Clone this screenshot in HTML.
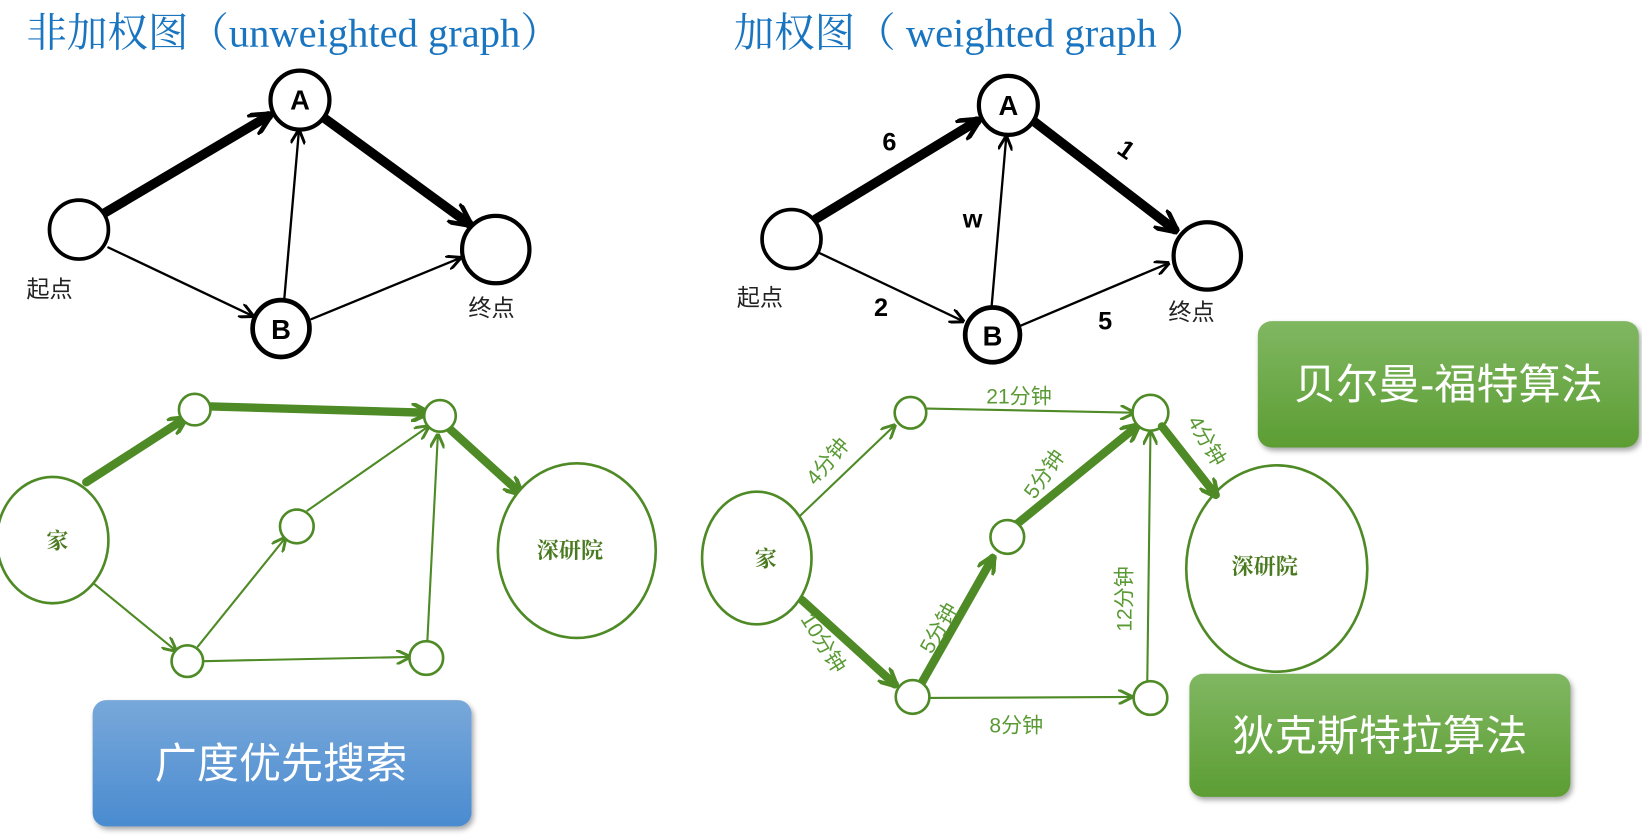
<!DOCTYPE html>
<html><head><meta charset="utf-8"><style>
html,body{margin:0;padding:0;background:#fff;width:1642px;height:836px;overflow:hidden}
svg{display:block}
</style></head><body>
<svg width="1642" height="836" viewBox="0 0 1560 794" xmlns="http://www.w3.org/2000/svg">
<defs>
<marker id="ak" viewBox="0 0 10 10" refX="9" refY="5" markerWidth="14" markerHeight="14" markerUnits="userSpaceOnUse" orient="auto"><path d="M0,0 L10,5 L0,10" fill="none" stroke="#000" stroke-width="2"/></marker>
<marker id="akb" viewBox="0 0 10 10" refX="8" refY="5" markerWidth="22" markerHeight="22" markerUnits="userSpaceOnUse" orient="auto"><path d="M0,0 L10,5 L0,10" fill="none" stroke="#000" stroke-width="2"/></marker>
<marker id="ag" viewBox="0 0 10 10" refX="9" refY="5" markerWidth="14" markerHeight="14" markerUnits="userSpaceOnUse" orient="auto"><path d="M0,0 L10,5 L0,10" fill="none" stroke="#4e8a25" stroke-width="2"/></marker>
<marker id="agb" viewBox="0 0 10 10" refX="8" refY="5" markerWidth="18" markerHeight="18" markerUnits="userSpaceOnUse" orient="auto"><path d="M0,0 L10,5 L0,10" fill="none" stroke="#4e8a25" stroke-width="2.2"/></marker>
<linearGradient id="gg" x1="0" y1="0" x2="0" y2="1"><stop offset="0" stop-color="#80b762"/><stop offset="1" stop-color="#5c9d33"/></linearGradient>
<linearGradient id="gb" x1="0" y1="0" x2="0" y2="1"><stop offset="0" stop-color="#78a8da"/><stop offset="1" stop-color="#4a8bd0"/></linearGradient>
<filter id="sh" x="-5%" y="-5%" width="115%" height="120%"><feDropShadow dx="2" dy="3" stdDeviation="2.5" flood-color="#000" flood-opacity="0.35"/></filter>
</defs>

<g font-family="'Liberation Serif','Noto Serif CJK SC',serif" font-size="38.5" fill="#1a75c0">
<text x="25" y="44">非加权图（unweighted graph）</text>
<text x="697" y="44">加权图（ weighted graph ）</text>
</g>

<!-- left black graph -->
<g fill="none" stroke="#000" stroke-linecap="round">
<line x1="98" y1="203" x2="255" y2="110" stroke-width="9" marker-end="url(#akb)"/>
<line x1="308" y1="112" x2="445" y2="212" stroke-width="9" marker-end="url(#akb)"/>
<line x1="103" y1="235" x2="240" y2="300" stroke-width="2.2" marker-end="url(#ak)"/>
<line x1="270" y1="285" x2="284" y2="124" stroke-width="2.2" marker-end="url(#ak)"/>
<line x1="296" y1="303" x2="437" y2="245" stroke-width="2.2" marker-end="url(#ak)"/>
<circle cx="285" cy="95" r="28" stroke-width="4" fill="#fff"/>
<circle cx="75" cy="218" r="28" stroke-width="3.5" fill="#fff"/>
<circle cx="267" cy="312" r="27" stroke-width="4.5" fill="#fff"/>
<circle cx="471" cy="237" r="32" stroke-width="4" fill="#fff"/>
</g>
<g font-family="'Liberation Sans',sans-serif" font-weight="bold" font-size="26" text-anchor="middle">
<text x="285" y="104">A</text><text x="267" y="322">B</text>
</g>
<g font-family="'Liberation Sans','Noto Sans CJK SC',sans-serif" font-size="22" fill="#222">
<text x="25" y="282">起点</text><text x="445" y="300">终点</text>
</g>

<!-- right black graph -->
<g fill="none" stroke="#000" stroke-linecap="round">
<line x1="775" y1="208" x2="928" y2="115" stroke-width="9" marker-end="url(#akb)"/>
<line x1="982" y1="115" x2="1116" y2="218" stroke-width="9" marker-end="url(#akb)"/>
<line x1="778" y1="240" x2="915" y2="305" stroke-width="2.2" marker-end="url(#ak)"/>
<line x1="942" y1="292" x2="956" y2="130" stroke-width="2.2" marker-end="url(#ak)"/>
<line x1="968" y1="310" x2="1110" y2="250" stroke-width="2.2" marker-end="url(#ak)"/>
<circle cx="958" cy="100" r="28" stroke-width="4" fill="#fff"/>
<circle cx="752" cy="227" r="28" stroke-width="3.5" fill="#fff"/>
<circle cx="943" cy="318" r="26" stroke-width="4.5" fill="#fff"/>
<circle cx="1147" cy="243" r="32" stroke-width="4" fill="#fff"/>
</g>
<g font-family="'Liberation Sans',sans-serif" font-weight="bold" font-size="26" text-anchor="middle">
<text x="958" y="109">A</text><text x="943" y="328">B</text>
<text x="845" y="143" font-size="24">6</text>
<text x="1070" y="150" font-size="24" transform="rotate(35 1070 142)">1</text>
<text x="924" y="216" font-size="24">w</text>
<text x="837" y="300" font-size="24">2</text>
<text x="1050" y="313" font-size="24">5</text>
</g>
<g font-family="'Liberation Sans','Noto Sans CJK SC',sans-serif" font-size="22" fill="#222">
<text x="700" y="290">起点</text><text x="1110" y="304">终点</text>
</g>

<!-- left green graph -->
<g fill="none" stroke="#4e8a25" stroke-linecap="round">
<line x1="82" y1="458" x2="175" y2="398" stroke-width="8" marker-end="url(#agb)"/>
<line x1="200" y1="386" x2="405" y2="392" stroke-width="8" marker-end="url(#agb)"/>
<line x1="428" y1="408" x2="494" y2="468" stroke-width="8" marker-end="url(#agb)"/>
<line x1="90" y1="555" x2="167" y2="618" stroke-width="2" marker-end="url(#ag)"/>
<line x1="188" y1="614" x2="271" y2="511" stroke-width="2" marker-end="url(#ag)"/>
<line x1="292" y1="485" x2="407" y2="405" stroke-width="2" marker-end="url(#ag)"/>
<line x1="194" y1="628" x2="389" y2="624" stroke-width="2" marker-end="url(#ag)"/>
<line x1="406" y1="609" x2="416" y2="413" stroke-width="2" marker-end="url(#ag)"/>
<g stroke-width="2.5" fill="#fff">
<ellipse cx="50" cy="513" rx="53" ry="60"/>
<circle cx="185" cy="389" r="15"/><circle cx="418" cy="395" r="15"/>
<circle cx="282" cy="500" r="16"/><circle cx="178" cy="628" r="15"/>
<circle cx="405" cy="625" r="16"/>
<ellipse cx="548" cy="523" rx="75" ry="83"/>
</g></g>

<!-- right green graph -->
<g fill="none" stroke="#4e8a25" stroke-linecap="round">
<line x1="760" y1="490" x2="850" y2="404" stroke-width="2" marker-end="url(#ag)"/>
<line x1="881" y1="388" x2="1077" y2="392" stroke-width="2" marker-end="url(#ag)"/>
<line x1="762" y1="570" x2="850" y2="650" stroke-width="8" marker-end="url(#agb)"/>
<line x1="876" y1="648" x2="943" y2="530" stroke-width="8" marker-end="url(#agb)"/>
<line x1="967" y1="497" x2="1080" y2="405" stroke-width="8" marker-end="url(#agb)"/>
<line x1="883" y1="663" x2="1075" y2="662" stroke-width="2" marker-end="url(#ag)"/>
<line x1="1090" y1="646" x2="1093" y2="410" stroke-width="2" marker-end="url(#ag)"/>
<g stroke-width="2.5" fill="#fff">
<ellipse cx="719" cy="530" rx="52" ry="63"/>
<circle cx="865" cy="392" r="15"/><circle cx="1093" cy="392" r="17"/>
<circle cx="957" cy="510" r="16"/><circle cx="867" cy="662" r="16"/>
<circle cx="1093" cy="663" r="16"/>
<ellipse cx="1213" cy="540" rx="86" ry="98"/>
</g>
<line x1="1104" y1="405" x2="1155" y2="470" stroke-width="8" marker-end="url(#agb)"/>
</g>
<g font-family="'Liberation Sans','Noto Sans CJK SC',sans-serif" font-size="20" fill="#5a9a35">
<text x="937" y="383">21分钟</text>
<text x="940" y="696">8分钟</text>
<text x="0" y="0" transform="translate(775,462) rotate(-50)">4分钟</text>
<text x="0" y="0" transform="translate(1128,400) rotate(60)">4分钟</text>
<text x="0" y="0" transform="translate(983,475) rotate(-55)">5分钟</text>
<text x="0" y="0" transform="translate(885,622) rotate(-60)">5分钟</text>
<text x="0" y="0" transform="translate(1075,600) rotate(-90)">12分钟</text>
<text x="0" y="0" transform="translate(760,588) rotate(58)">10分钟</text>
</g>
<g font-family="'Liberation Serif','Noto Serif CJK SC',serif" font-size="21" font-weight="bold" fill="#4a7a20">
<text x="44" y="521">家</text><text x="510" y="530">深研院</text>
<text x="717" y="538">家</text><text x="1170" y="545">深研院</text>
</g>

<!-- buttons -->
<g filter="url(#sh)">
<rect x="1195" y="305" width="362" height="120" rx="13" fill="url(#gg)"/>
<rect x="1130" y="640" width="362" height="117" rx="13" fill="url(#gg)"/>
<rect x="88" y="665" width="360" height="120" rx="13" fill="url(#gb)"/>
</g>
<g font-family="'Liberation Sans','Noto Sans CJK SC',sans-serif" font-size="40" fill="#fff" text-anchor="middle">
<text x="1376" y="379">贝尔曼-福特算法</text>
<text x="1311" y="713">狄克斯特拉算法</text>
<text x="267" y="739">广度优先搜索</text>
</g>
</svg>
</body></html>
